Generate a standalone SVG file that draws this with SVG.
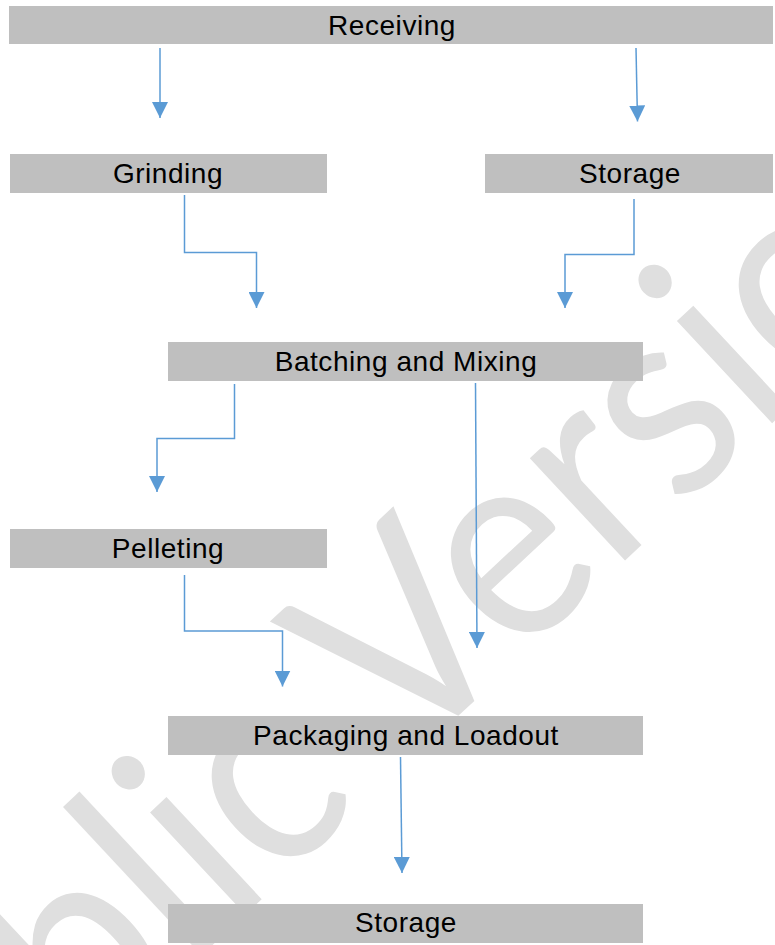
<svg xmlns="http://www.w3.org/2000/svg" width="775" height="945" viewBox="0 0 775 945">
<style>
.box{fill:#bfbfbf}
.lbl{font-family:"Liberation Sans",Arial,sans-serif;font-size:28px;letter-spacing:0.55px;fill:#000;text-anchor:middle}
.wm{font-family:Lato,"Noto Sans",sans-serif;font-size:265px;fill:#dfdfdf;text-anchor:middle}
.c{fill:none;stroke:#5b9bd5;stroke-width:1.5;marker-end:url(#ah)}
</style>
<defs>
<marker id="ah" markerUnits="userSpaceOnUse" markerWidth="16" markerHeight="16" viewBox="0 0 16 16" refX="16" refY="8" orient="auto">
<path d="M0,0 L16,8 L0,16 z" fill="#5b9bd5"/>
</marker>
</defs>
<rect width="775" height="945" fill="#fff"/>
<g id="watermark">
<text class="wm" transform="translate(441,732) rotate(-43) scale(0.95,1.04)">Public Version</text>
</g>
<g id="receiving"><rect class="box" x="9" y="6" width="764" height="38"/><text class="lbl" x="392" y="35">Receiving</text></g>
<g id="grinding"><rect class="box" x="10" y="154" width="317" height="39"/><text class="lbl" x="168" y="183">Grinding</text></g>
<g id="storage1"><rect class="box" x="485" y="154" width="288" height="39"/><text class="lbl" x="630" y="183">Storage</text></g>
<g id="batching"><rect class="box" x="168" y="342" width="475" height="39"/><text class="lbl" x="406" y="371">Batching and Mixing</text></g>
<g id="pelleting"><rect class="box" x="10" y="529" width="317" height="39"/><text class="lbl" x="168" y="558">Pelleting</text></g>
<g id="packaging"><rect class="box" x="168" y="716" width="475" height="39"/><text class="lbl" x="406" y="745">Packaging and Loadout</text></g>
<g id="storage2"><rect class="box" x="168" y="904" width="475" height="39"/><text class="lbl" x="406" y="932">Storage</text></g>
<g id="connectors">
<path class="c" d="M160,48 V118"/>
<path class="c" d="M636,48 L637.5,121.5"/>
<path class="c" d="M184.5,195 V252.5 H256.5 V308"/>
<path class="c" d="M634,199 V254.5 H565 V308"/>
<path class="c" d="M234.5,384 V438.5 H157 V492"/>
<path class="c" d="M475.5,383 L477,648"/>
<path class="c" d="M184.5,575 V631 H282.5 V686.5"/>
<path class="c" d="M400.5,757 L402,873"/>
</g>
</svg>
